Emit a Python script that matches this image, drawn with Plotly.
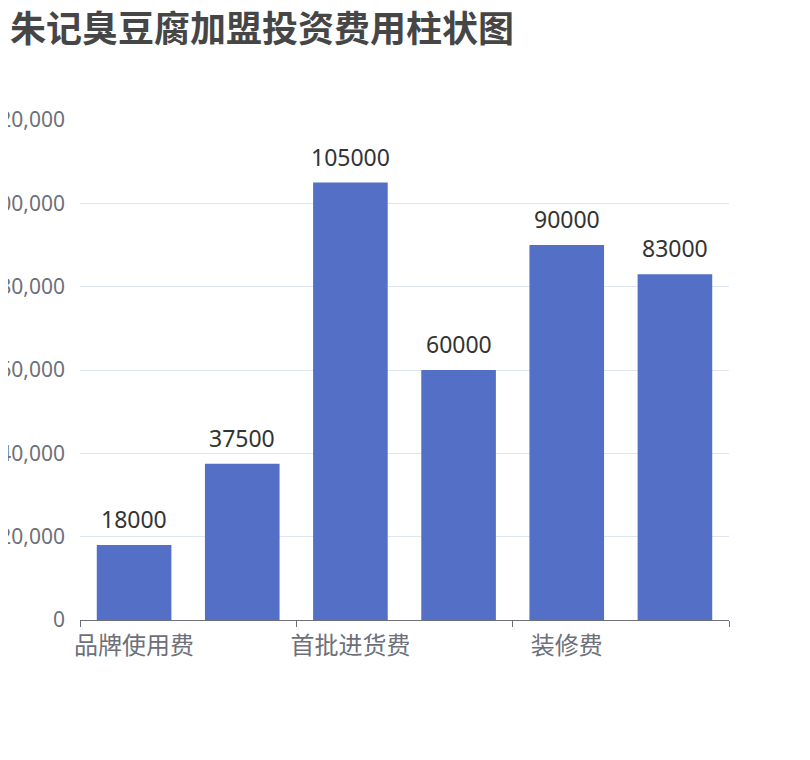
import plotly.graph_objects as go

title = "朱记臭豆腐加盟投资费用柱状图"
# six cost items; the axis only shows every other name (as in the source chart)
categories = ["品牌使用费", "加盟保证金", "首批进货费", "设备购置费", "装修费", "店面租金"]
costs = [18000, 37500, 105000, 60000, 90000, 83000]
y_ticks = [0, 20000, 40000, 60000, 80000, 100000, 120000]

font_cn = "Noto Sans CJK SC"
font_num = "Noto Sans, Noto Sans CJK SC"

fig = go.Figure()

fig.add_trace(go.Bar(
    x=categories,
    y=costs,
    marker=dict(color="#5470C6", line=dict(width=0)),
    hoverinfo="x+y",
))

# invisible helper trace so the tick marks sit on the category boundaries
fig.add_trace(go.Scatter(x=[-0.5, 5.5], y=[0, 0], xaxis="x2", mode="markers",
                         marker=dict(opacity=0), hoverinfo="skip", showlegend=False))

# value labels above the bars
for cat, val in zip(categories, costs):
    fig.add_annotation(x=cat, y=val, text=str(val), showarrow=False,
                       yanchor="bottom", yshift=8,
                       font=dict(family=font_num, size=23, color="#333333"))

fig.update_layout(
    width=810,
    height=760,
    template="none",
    paper_bgcolor="white",
    plot_bgcolor="white",
    showlegend=False,
    bargap=0.31,
    margin=dict(l=72, r=89, t=112, b=148),
    title=dict(
        text="<b>" + title + "</b>",
        font=dict(family=font_cn, size=36, color="#464646"),
        x=2 / 810, xref="container", xanchor="left",
        y=1 - 9 / 760, yref="container", yanchor="top",
    ),
    xaxis=dict(
        type="category",
        range=[-0.5, 5.5],
        tickvals=categories[0::2],
        ticktext=categories[0::2],
        ticks="",
        showline=True,
        linecolor="#6E7079",
        linewidth=1,
        showgrid=False,
        zeroline=False,
        automargin=False,
        ticklabelstandoff=4,
        tickfont=dict(family=font_cn, size=24, color="#6E7079"),
    ),
    xaxis2=dict(
        overlaying="x",
        range=[-0.5, 5.5],
        tickvals=[-0.5, 1.5, 3.5, 5.5],
        showticklabels=False,
        ticks="outside",
        ticklen=6,
        tickcolor="#6E7079",
        showgrid=False,
        zeroline=False,
        showline=False,
        automargin=False,
        fixedrange=True,
    ),
    yaxis=dict(
        range=[0, 120000],
        tickvals=y_ticks,
        tickformat=",",
        showgrid=True,
        gridcolor="#E0E6F1",
        gridwidth=1,
        zeroline=False,
        showline=False,
        ticks="",
        automargin=False,
        ticklabelstandoff=14,
        tickfont=dict(family=font_num, size=21, color="#6E7079"),
    ),
)

fig.write_html("out.html")
